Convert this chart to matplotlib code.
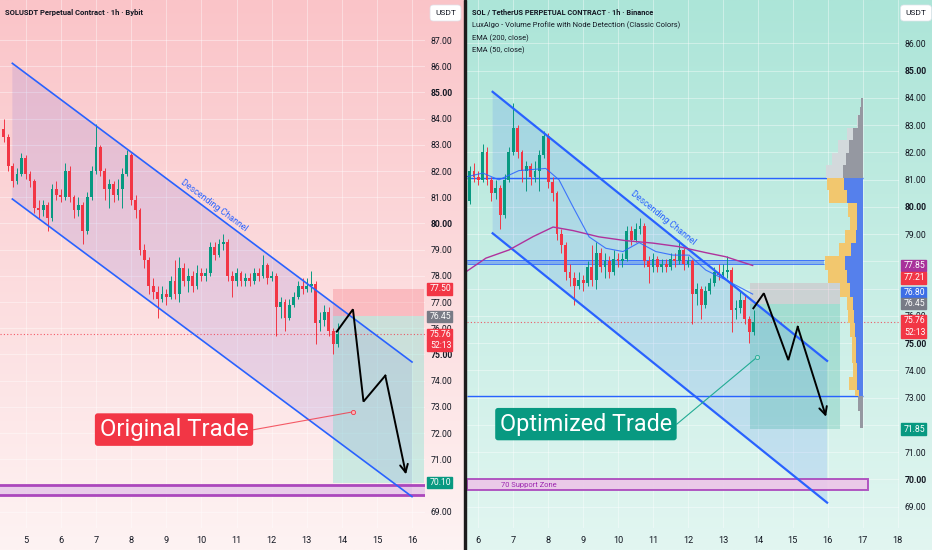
import numpy as np
import matplotlib
matplotlib.use("Agg")
import matplotlib.pyplot as plt
from matplotlib import font_manager
from matplotlib.patches import Rectangle, Polygon
from matplotlib.transforms import blended_transform_factory

installed = {f.name for f in font_manager.fontManager.ttflist}
NARROW = 'Liberation Sans Narrow' if 'Liberation Sans Narrow' in installed else 'Roboto'
plt.rcParams['font.family'] = [NARROW, 'DejaVu Sans']
# narrow font is wider when falling back to Roboto
FS = 1.0 if NARROW == 'Liberation Sans Narrow' else 0.86

# --- price data (3h candles, day-of-month on x) ---
t_start = 4.375
t_step = 0.125
first_open = 83.6
closes = [83.3, 82.2, 81.6, 81.9, 82.5, 81.9, 81.6, 80.6, 80.5, 80.7,
          80.2, 81.3, 81.1, 81.0, 82.0, 81.0, 80.5, 80.7, 79.7, 81.0,
          82.0, 82.9, 82.0, 81.3, 81.5, 81.1, 81.3, 81.9, 82.6, 80.9,
          80.5, 79.0, 78.6, 77.6, 77.4, 77.1, 77.3, 77.2, 77.8, 77.3,
          78.3, 77.8, 78.0, 77.6, 78.1, 78.0, 78.1, 79.1, 78.8, 79.2,
          79.3, 78.0, 77.8, 78.1, 77.8, 77.9, 77.8, 78.1, 78.0, 78.4,
          77.9, 78.0, 76.8, 77.0, 76.4, 76.9, 77.2, 77.6, 77.5, 77.6,
          77.7, 76.2, 76.3, 76.6, 75.9, 75.4, 75.76]
highs = [84.0, 83.4, 82.3, 82.1, 82.7, 82.6, 82.0, 81.7, 80.9, 80.9,
         80.8, 81.5, 81.6, 81.3, 82.3, 82.2, 81.1, 81.0, 80.8, 81.2,
         82.2, 83.8, 83.0, 82.1, 81.7, 81.6, 81.7, 82.1, 82.8, 82.7,
         81.1, 80.6, 79.2, 78.7, 77.9, 77.6, 77.6, 77.5, 78.0, 78.6,
         78.7, 78.5, 78.3, 78.2, 78.4, 78.3, 78.3, 79.3, 79.3, 79.4,
         79.6, 79.4, 78.2, 78.3, 78.2, 78.1, 78.1, 78.3, 78.3, 78.8,
         78.5, 78.2, 78.1, 77.2, 77.1, 77.1, 77.4, 77.8, 77.9, 77.9,
         78.2, 77.8, 76.6, 76.9, 76.8, 76.0, 76.2]
lows = [83.1, 82.0, 81.4, 81.5, 81.8, 81.7, 81.4, 80.4, 80.2, 80.3,
        79.7, 80.1, 80.9, 80.8, 80.9, 80.8, 80.2, 80.3, 79.2, 79.6,
        80.9, 81.9, 81.8, 80.9, 80.6, 80.8, 80.9, 80.6, 81.8, 80.7,
        80.2, 78.8, 78.3, 77.3, 77.1, 76.4, 77.0, 76.9, 77.1, 77.1,
        77.0, 77.6, 77.4, 77.4, 77.5, 77.8, 77.8, 78.0, 78.6, 78.7,
        79.0, 77.8, 77.2, 77.6, 77.6, 77.6, 77.6, 77.7, 77.8, 77.9,
        77.7, 77.8, 75.7, 76.4, 75.9, 76.3, 76.8, 77.1, 77.3, 77.4,
        77.4, 75.4, 75.9, 76.1, 75.7, 75.0, 75.3]
last_price = 75.76
countdown = '52:13'

# EMAs (right chart)
ema200_days = [5.65, 6.22, 6.88, 7.57, 8.14, 8.71, 9.45, 10.22, 11.0, 11.74, 12.51, 13.08, 13.85]
ema200 = [77.62, 78.12, 78.42, 78.91, 79.26, 79.13, 78.9, 78.76, 78.67, 78.54, 78.32, 78.17, 77.85]
ema50_days = [5.65, 6.13, 6.59, 7.16, 7.93, 8.31, 8.71, 9.17, 9.65, 10.14, 10.6, 11.08,
              11.57, 12.03, 12.51, 13.08, 13.85]
ema50 = [81.1, 81.24, 80.99, 81.33, 81.41, 80.99, 80.0, 78.9, 78.48, 78.36, 78.69, 78.36,
         78.23, 78.23, 77.68, 77.32, 76.80]

# volume profile (right chart): bin edges and bar lengths (px)
vp_edges = [84.00, 83.65, 83.37, 82.89, 82.45, 81.98, 81.54, 81.07, 80.62, 80.14, 79.63,
            79.15, 78.67, 78.20, 77.68, 77.21, 76.70, 76.23, 75.74, 75.23, 74.75, 74.27,
            73.76, 73.28, 73.06, 72.50, 71.90]
vp_total = [1.5, 3, 6, 16, 24.4, 31, 36.7, 36, 33.4, 14.4, 12.7, 17.7, 24, 37.7, 34.4,
            22.7, 16, 14.4, 12.7, 11, 11, 10, 13.4, 7.7, 4.4, 2.5]
vp_inner = [1.5, 3, 4.4, 9.4, 13.4, 16.7, 20, 18.4, 16, 6, 5.4, 6.7, 12, 17.7, 16,
            12.7, 9.4, 8.4, 7.7, 6.7, 6.7, 6, 5.4, 3.4, 4.4, 2.5]
va_high = 81.07
va_low = 73.06
poc_low, poc_high = 77.89, 78.04

# drawings
L_chan_x = [4.62, 15.99]
L_chan_up = [86.11, 74.71]
L_chan_lo = [80.93, 69.57]
R_chan_x = [6.41, 15.98]
R_chan_up = [84.22, 74.35]
R_chan_lo = [79.03, 69.15]

L_trade = dict(t0=13.75, t1=16.33, entry=76.45, stop=77.50, target=70.10)
R_trade = dict(t0=13.77, t1=16.34, entry=76.45, stop=77.21, target=71.85)

L_zz_days = [13.85, 14.31, 14.61, 15.23, 15.82]
L_zz_prices = [75.87, 76.72, 73.20, 74.19, 70.42]
R_zz_days = [13.87, 14.17, 14.87, 15.14, 15.95]
R_zz_prices = [76.28, 76.83, 74.38, 75.60, 72.30]

L_support = (69.63, 70.02)
R_support = (69.61, 70.02)

UP, DOWN = '#089981', '#f23645'
W, H = 932, 550

opens = [first_open] + closes[:-1]
times = t_start + t_step * np.arange(len(closes))

fig = plt.figure(figsize=(W / 100, H / 100), dpi=100)


def fig_rect(x0, y0, x1, y1):
    return [x0 / W, 1 - y1 / H, (x1 - x0) / W, (y1 - y0) / H]


def gradient_bg(rect, top, bottom):
    bg = fig.add_axes(rect, zorder=-5)
    top = np.array(top) / 255
    bottom = np.array(bottom) / 255
    f = np.linspace(0, 1, 256)[:, None]
    img = top + (bottom - top) * f
    bg.imshow(img[:, None, :], aspect='auto', extent=(0, 1, 0, 1))
    bg.axis('off')


gradient_bg(fig_rect(0, 0, 464, 550), (250, 196, 200), (254, 243, 243))
gradient_bg(fig_rect(466, 0, 932, 550), (172, 229, 216), (226, 246, 241))
fig.patches.append(Rectangle((463.5 / W, 0), 3 / W, 1, transform=fig.transFigure,
                             color='#1c1c1c', zorder=5))

axL = fig.add_axes(fig_rect(0, 0, 425, 528), zorder=1)
axR = fig.add_axes(fig_rect(467, 0, 899, 528), zorder=1)

# pixel scales of each pane
PPU_L, PPD_L = 26.2, 35.15
PPU_R, PPD_R = 27.26, 34.95
AXW_L, AXW_R = 425, 432
TICK_FS = 7.2 * FS


def setup(ax, xlim, ylim, xticks, yticks, hidden):
    ax.set_facecolor('none')
    ax.set_xlim(*xlim)
    ax.set_ylim(*ylim)
    ax.set_xticks(xticks)
    ax.set_xticklabels([str(d) for d in xticks])
    ax.set_yticks(yticks)
    ax.set_yticklabels(['' if v in hidden else f'{v:.2f}' for v in yticks])
    ax.yaxis.tick_right()
    ax.tick_params(length=0, labelsize=TICK_FS, colors='#131722')
    ax.tick_params(axis='y', pad=4.3)
    ax.tick_params(axis='x', pad=6, labelsize=6.6)
    for lab, v in zip(ax.get_yticklabels(), yticks):
        if v % 5 == 0:
            lab.set_fontweight('bold')
    ax.grid(True, color='white', alpha=0.4, lw=0.7)
    ax.set_axisbelow(True)
    for s in ax.spines.values():
        s.set_visible(False)


setup(axL, (5 - 25.7 / PPD_L, 5 + (425 - 25.7) / PPD_L), (87 - 488 / PPU_L, 87 + 40 / PPU_L),
      list(range(5, 17)), list(range(69, 88)), hidden={70})
setup(axR, (6 - 11.3 / PPD_R, 6 + 420.7 / PPD_R), (86 - 484.7 / PPU_R, 86 + 43.3 / PPU_R),
      list(range(6, 19)), list(range(69, 87)), hidden={72, 77, 78})


def draw_candles(ax):
    o = np.array(opens)
    c = np.array(closes)
    cols = [UP if ci >= oi else DOWN for oi, ci in zip(o, c)]
    ax.vlines(times, lows, highs, colors=cols, lw=0.7, zorder=4)
    body = np.maximum(np.abs(c - o), 0.04)
    ax.bar(times, body, bottom=np.minimum(o, c), width=0.08, color=cols, lw=0, zorder=4)


def draw_channel(ax, xs, up, lo, fill, alpha, lw):
    ax.add_patch(Polygon([(xs[0], up[0]), (xs[1], up[1]), (xs[1], lo[1]), (xs[0], lo[0])],
                         closed=True, fc=fill, alpha=alpha, lw=0, zorder=1))
    ax.plot(xs, up, color='#2962ff', lw=lw, zorder=5)
    ax.plot(xs, lo, color='#2962ff', lw=lw, zorder=5)


def draw_trade(ax, tr, c_stop, a_stop, c_tgt, a_tgt):
    ax.add_patch(Rectangle((tr['t0'], tr['entry']), tr['t1'] - tr['t0'], tr['stop'] - tr['entry'],
                           fc=c_stop, alpha=a_stop, lw=0, zorder=2))
    ax.add_patch(Rectangle((tr['t0'], tr['target']), tr['t1'] - tr['t0'], tr['entry'] - tr['target'],
                           fc=c_tgt, alpha=a_tgt, lw=0, zorder=2))


def draw_zigzag(ax, xs, ys):
    ax.plot(xs[:-1], ys[:-1], color='black', lw=1.4, zorder=12, solid_joinstyle='miter')
    ax.annotate('', xy=(xs[-1], ys[-1]), xytext=(xs[-2], ys[-2]),
                arrowprops=dict(arrowstyle='->', color='black', lw=1.4, mutation_scale=14,
                                shrinkA=0, shrinkB=0), zorder=12)


def tag(ax, price, text, color, ppu, axw, dy=0):
    tr = blended_transform_factory(ax.transAxes, ax.transData)
    y = price + dy / ppu
    ax.add_patch(Rectangle((1 + 1.8 / axw, y - 5.6 / ppu), 25 / axw, 11.2 / ppu, transform=tr,
                           color=color, clip_on=False, zorder=30))
    ax.text(1 + 5 / axw, y, text, transform=tr, color='white', fontsize=TICK_FS,
            va='center', ha='left', clip_on=False, zorder=31)


# ---------------- left pane ----------------
draw_channel(axL, L_chan_x, L_chan_up, L_chan_lo, '#7b68d8', 0.16, 1.2)
draw_trade(axL, L_trade, '#f23645', 0.2, '#3ce0c4', 0.25)
axL.axhspan(*L_support, color='#e1bee7', alpha=0.7, lw=0, zorder=3)
axL.axhline(L_support[0], color='#ab47bc', lw=2, zorder=3)
axL.axhline(L_support[1], color='#ab47bc', lw=2, zorder=3)
draw_candles(axL)
axL.axhline(last_price, color='#f23645', lw=0.8, ls=(0, (1, 2)), alpha=0.8, zorder=3)
draw_zigzag(axL, L_zz_days, L_zz_prices)
axL.text(10.37, 80.70, 'Descending Channel', color='#2962ff', fontsize=7.4 * FS,
         rotation=-36.7, ha='center', va='center', rotation_mode='anchor', zorder=6)
axL.plot([11.42, 14.32], [72.11, 72.81], color='#f23645', lw=0.8, alpha=0.8, zorder=13)
axL.plot(14.32, 72.81, 'o', ms=3, mfc='#f9b3b9', mec='#f23645', mew=0.6, zorder=13)
axL.text(9.22, 72.13, 'Original Trade', color='white', fontsize=20 * FS, ha='center', va='center',
         zorder=15, bbox=dict(boxstyle='round,pad=0.2,rounding_size=0.12', fc='#f23645', ec='none'))

tag(axL, L_trade['stop'], f"{L_trade['stop']:.2f}", '#f23645', PPU_L, AXW_L)
tag(axL, L_trade['entry'], f"{L_trade['entry']:.2f}", '#787b86', PPU_L, AXW_L)
tag(axL, last_price, f'{last_price:.2f}', '#f23645', PPU_L, AXW_L)
tag(axL, last_price, countdown, '#f23645', PPU_L, AXW_L, dy=-11)
tag(axL, L_trade['target'], f"{L_trade['target']:.2f}", '#089981', PPU_L, AXW_L)

# ---------------- right pane ----------------
draw_channel(axR, R_chan_x, R_chan_up, R_chan_lo, '#2962ff', 0.13, 1.6)
draw_trade(axR, R_trade, '#e0457a', 0.16, '#089981', 0.2)
x0R = axR.get_xlim()[0]
axR.add_patch(Rectangle((x0R, R_support[0]), 17.14 - x0R, R_support[1] - R_support[0],
                        fc='#ecc6e8', ec='#ab47bc', lw=1.4, alpha=0.9, zorder=3))
axR.text(6.65, sum(R_support) / 2, '70 Support Zone', color='#9c27b0', fontsize=6.3 * FS,
         ha='left', va='center', zorder=4)
axR.hlines([va_high, va_low], x0R, 17.0, color='#2962ff', lw=1.0, zorder=3)
axR.fill_between([x0R, 15.89], poc_low, poc_high, color='#5b8def', alpha=0.6, lw=0, zorder=3)
axR.hlines([poc_low, poc_high], x0R, 15.89, color='#2962ff', lw=0.7, alpha=0.8, zorder=3)

edges = np.array(vp_edges)
centers = (edges[:-1] + edges[1:]) / 2
heights = edges[:-1] - edges[1:]
total = np.array(vp_total) / PPD_R
inner = np.array(vp_inner) / PPD_R
in_va = (centers < va_high) & (centers > va_low)
outer_col = ['#f2c76e' if v else '#d3d9dc' for v in in_va]
inner_col = ['#5580ec' if v else '#9598a1' for v in in_va]
axR.barh(centers, total, left=17 - total, height=heights, color=outer_col, lw=0, zorder=6)
axR.barh(centers, inner, left=17 - inner, height=heights, color=inner_col, lw=0, zorder=7)

draw_candles(axR)
axR.plot(ema200_days, ema200, color='#b0329c', lw=1.0, zorder=5)
axR.plot(ema50_days, ema50, color='#2962ff', lw=0.8, alpha=0.85, zorder=5)
axR.axhline(last_price, color='#f23645', lw=0.8, ls=(0, (1, 2)), alpha=0.8, zorder=3)
draw_zigzag(axR, R_zz_days, R_zz_prices)
axR.text(11.28, 79.59, 'Descending Channel', color='#2962ff', fontsize=7.4 * FS,
         rotation=-38.9, ha='center', va='center', rotation_mode='anchor', zorder=6)
axR.plot([11.68, 13.97], [72.03, 74.48], color='#22ab94', lw=0.8, zorder=13)
axR.plot(13.97, 74.48, 'o', ms=3, mfc='#b2dfdb', mec='#22ab94', mew=0.6, zorder=13)
axR.text(9.08, 72.03, 'Optimized Trade', color='white', fontsize=19.6 * FS, ha='center', va='center',
         zorder=15, bbox=dict(boxstyle='round,pad=0.2,rounding_size=0.12', fc='#089981', ec='none'))

tag(axR, ema200[-1], f'{ema200[-1]:.2f}', '#a8329a', PPU_R, AXW_R)
tag(axR, R_trade['stop'], f"{R_trade['stop']:.2f}", '#f23645', PPU_R, AXW_R, dy=5)
tag(axR, ema50[-1], f'{ema50[-1]:.2f}', '#3d6ee6', PPU_R, AXW_R, dy=1.5)
tag(axR, R_trade['entry'], f"{R_trade['entry']:.2f}", '#787b86', PPU_R, AXW_R)
tag(axR, last_price, f'{last_price:.2f}', '#f23645', PPU_R, AXW_R, dy=1.5)
tag(axR, last_price, countdown, '#f23645', PPU_R, AXW_R, dy=-9.7)
tag(axR, R_trade['target'], f"{R_trade['target']:.2f}", '#089981', PPU_R, AXW_R)

# ---------------- headers ----------------
fig.text(5 / W, 1 - 12.5 / H, 'SOLUSDT Perpetual Contract · 1h · Bybit', fontsize=6.4 * FS,
         fontweight='bold', color='#131722', va='center')
fig.text(472 / W, 1 - 12.5 / H, 'SOL / TetherUS PERPETUAL CONTRACT · 1h · Binance',
         fontsize=6.2 * FS, fontweight='bold', color='#131722', va='center')
for i, line in enumerate(['LuxAlgo - Volume Profile with Node Detection (Classic Colors)',
                          'EMA (200, close)', 'EMA (50, close)']):
    fig.text(472 / W, 1 - (25.2 + 12.7 * i) / H, line, fontsize=6.3 * FS, color='#131722',
             va='center')
for cx in (445.5, 916):
    fig.text(cx / W, 1 - 13 / H, 'USDT', fontsize=6, color='#131722', ha='center', va='center',
             bbox=dict(boxstyle='round,pad=0.6,rounding_size=0.4', fc='white', ec='#e0e3eb', lw=0.5))

fig.savefig('out.png', dpi=100)
